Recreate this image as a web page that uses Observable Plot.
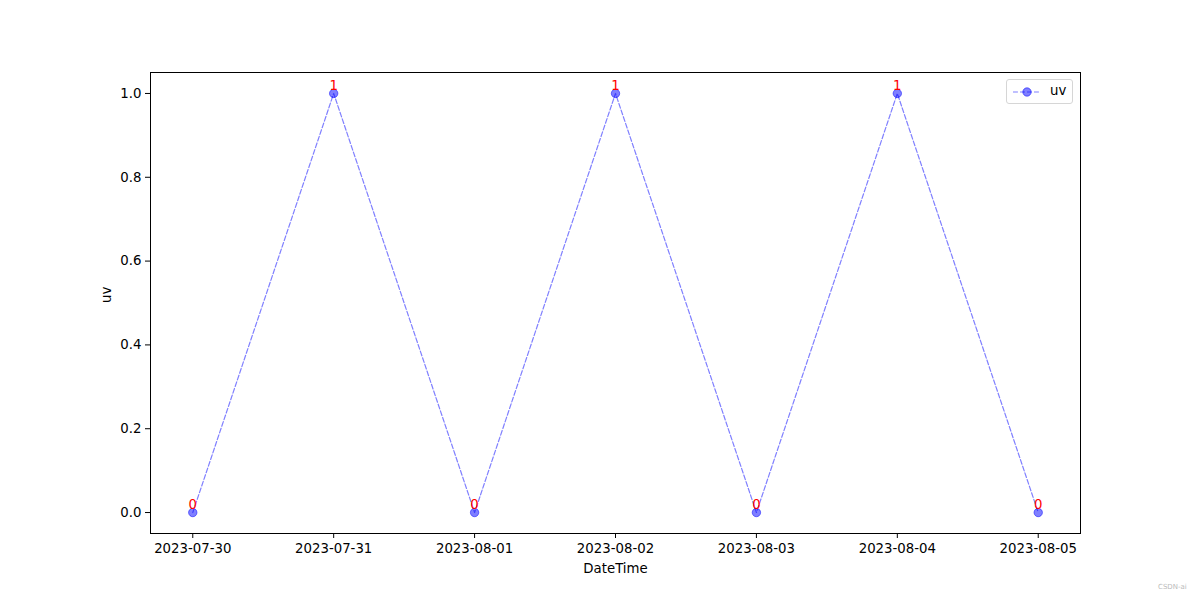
<!DOCTYPE html>
<html>
<head>
<meta charset="utf-8">
<script src="https://cdn.jsdelivr.net/npm/d3@7"></script>
<script src="https://cdn.jsdelivr.net/npm/@observablehq/plot@0.6"></script>
<style>
  html, body { margin: 0; padding: 0; background: #fff; }
  #wrap { position: relative; width: 1200px; height: 600px; font-family: "DejaVu Sans", sans-serif; }
  #legend { position: absolute; left: 1006px; top: 79px; width: 67px; height: 25px; border: 1px solid #d6d6d6; border-radius: 3px; background: rgba(255,255,255,0.8); box-sizing: border-box; }
  #legend svg { position: absolute; left: 4px; top: 4px; }
  #legend span { position: absolute; left: 43px; top: 3px; font-size: 13.3px; color: #000; }
  #wm { position: absolute; left: 1158px; top: 583px; font-size: 7px; color: #bbb; }
</style>
</head>
<body>
<div id="wrap"></div>
<script>
const dates = ["2023-07-30", "2023-07-31", "2023-08-01", "2023-08-02", "2023-08-03", "2023-08-04", "2023-08-05"];
const uv = [0, 1, 0, 1, 0, 1, 0];
const yTicks = [0, 0.2, 0.4, 0.6, 0.8, 1.0];
const seriesName = "uv";
const xLabel = "DateTime";
const yLabel = "uv";

const data = dates.map((d, i) => ({date: new Date(d + "T00:00:00Z"), v: uv[i]}));
const x0 = data[0].date.getTime(), x1 = data[data.length - 1].date.getTime();
const pad = (x1 - x0) * 0.05;

const chart = Plot.plot({
  width: 1200,
  height: 600,
  marginLeft: 150,
  marginRight: 120,
  marginTop: 72,
  marginBottom: 67,
  style: {fontFamily: "DejaVu Sans, sans-serif", fontSize: "13.3px", color: "#000", background: "#fff"},
  x: {type: "utc", domain: [new Date(x0 - pad), new Date(x1 + pad)]},
  y: {domain: [-0.05, 1.05]},
  marks: [
    Plot.frame({stroke: "#000", strokeWidth: 1}),
    Plot.axisX({ticks: data.map(d => d.date), tickFormat: d3.utcFormat("%Y-%m-%d"), tickSize: 5, tickPadding: 5, label: null, stroke: "#000", fill: "#000"}),
    Plot.axisY({ticks: yTicks, tickFormat: d3.format(".1f"), tickSize: 5, tickPadding: 4, label: null, stroke: "#000", fill: "#000"}),
    Plot.line(data, {x: "date", y: "v", stroke: "#0000ff", strokeOpacity: 0.5, strokeWidth: 1.2, strokeDasharray: "4.9,2.1"}),
    Plot.dot(data, {x: "date", y: "v", r: 4.2, fill: "#0000ff", fillOpacity: 0.5, stroke: "#0000ff", strokeOpacity: 0.5, strokeWidth: 1}),
    Plot.text(data, {x: "date", y: "v", text: d => String(d.v), fill: "red", fontSize: 13.3, dy: -8}),
    Plot.text([xLabel], {frameAnchor: "bottom", dy: 39, text: d => d, fill: "#000", fontSize: 13.3}),
    Plot.text([yLabel], {frameAnchor: "left", dx: -44, rotate: -90, text: d => d, fill: "#000", fontSize: 13.3})
  ]
});

const wrap = document.getElementById("wrap");
wrap.appendChild(chart);

const legend = document.createElement("div");
legend.id = "legend";
legend.innerHTML = `<svg width="32" height="16"><line x1="2" y1="8" x2="30" y2="8" stroke="#0000ff" stroke-opacity="0.5" stroke-width="1.2" stroke-dasharray="4.9,2.1"/><circle cx="16" cy="8" r="4.2" fill="#0000ff" fill-opacity="0.5" stroke="#0000ff" stroke-opacity="0.5"/></svg><span>${seriesName}</span>`;
wrap.appendChild(legend);

const wm = document.createElement("div");
wm.id = "wm";
wm.textContent = "CSDN-ai";
wrap.appendChild(wm);
</script>
</body>
</html>
